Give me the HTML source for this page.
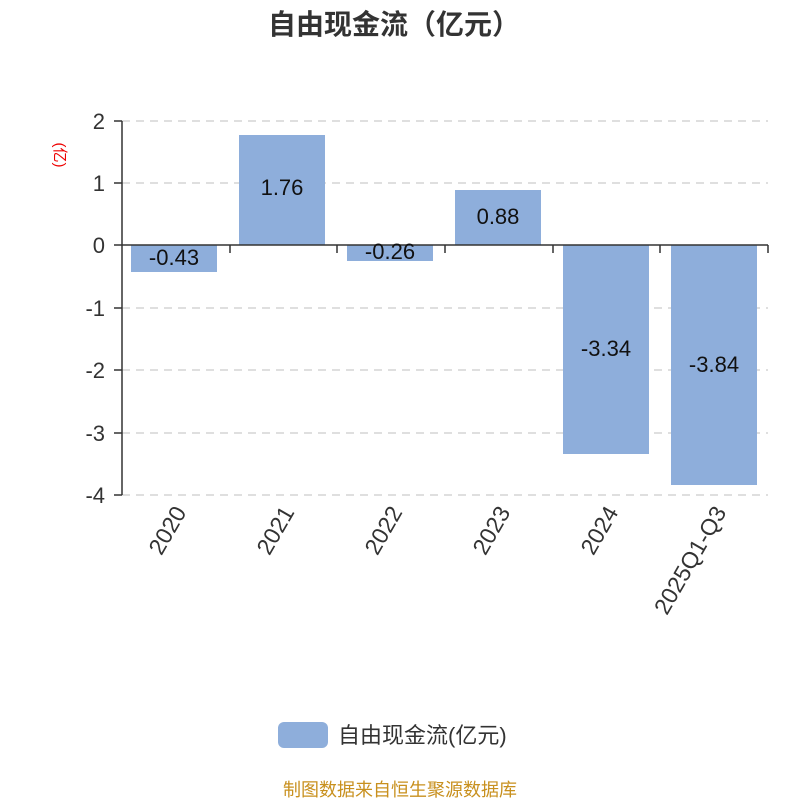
<!DOCTYPE html>
<html><head><meta charset="utf-8"><style>body{margin:0;background:#fff}svg{display:block}text{font-family:"Liberation Sans","Noto Sans CJK SC",sans-serif}</style></head><body>
<svg width="800" height="800" viewBox="0 0 800 800">
<text x="394" y="34" text-anchor="middle" font-size="28" font-weight="bold" fill="#333">自由现金流（亿元）</text>
<text transform="translate(55,155) rotate(90)" text-anchor="middle" font-size="15" fill="#e00">(亿)</text>
<g stroke="#ccc" stroke-dasharray="8,6" stroke-width="1.2">
<line x1="122" y1="121" x2="768" y2="121"/><line x1="122" y1="183" x2="768" y2="183"/><line x1="122" y1="308" x2="768" y2="308"/><line x1="122" y1="370" x2="768" y2="370"/><line x1="122" y1="433" x2="768" y2="433"/><line x1="122" y1="495" x2="768" y2="495"/>
</g>
<g fill="#8eaedb">
<rect x="131" y="245" width="86" height="27"/>
<rect x="239" y="135" width="86" height="110"/>
<rect x="347" y="245" width="86" height="16"/>
<rect x="455" y="190" width="86" height="55"/>
<rect x="563" y="245" width="86" height="209"/>
<rect x="671" y="245" width="86" height="240"/>
</g>
<g stroke="#333" stroke-width="1.5">
<line x1="122" y1="121" x2="122" y2="495"/>
<line x1="114" y1="121" x2="122" y2="121"/><line x1="114" y1="183" x2="122" y2="183"/><line x1="114" y1="245" x2="122" y2="245"/><line x1="114" y1="308" x2="122" y2="308"/><line x1="114" y1="370" x2="122" y2="370"/><line x1="114" y1="433" x2="122" y2="433"/><line x1="114" y1="495" x2="122" y2="495"/>
<line x1="122" y1="245" x2="768" y2="245"/>
<line x1="230" y1="245" x2="230" y2="253"/><line x1="337" y1="245" x2="337" y2="253"/><line x1="445" y1="245" x2="445" y2="253"/><line x1="553" y1="245" x2="553" y2="253"/><line x1="660" y1="245" x2="660" y2="253"/><line x1="768" y1="245" x2="768" y2="253"/>
</g>
<g font-size="22" fill="#333" text-anchor="end">
<text x="105" y="129">2</text><text x="105" y="191">1</text><text x="105" y="253">0</text><text x="105" y="316">-1</text><text x="105" y="378">-2</text><text x="105" y="441">-3</text><text x="105" y="503">-4</text>
</g>
<g font-size="22" fill="#111" text-anchor="middle">
<text x="174" y="265">-0.43</text><text x="282" y="195">1.76</text><text x="390" y="259">-0.26</text><text x="498" y="224">0.88</text><text x="606" y="356">-3.34</text><text x="714" y="372">-3.84</text>
</g>
<g font-size="23" fill="#333" text-anchor="end">
<text transform="translate(187,512) rotate(-60)">2020</text>
<text transform="translate(295,512) rotate(-60)">2021</text>
<text transform="translate(403,512) rotate(-60)">2022</text>
<text transform="translate(511,512) rotate(-60)">2023</text>
<text transform="translate(619,512) rotate(-60)">2024</text>
<text transform="translate(727,512) rotate(-60)">2025Q1-Q3</text>
</g>
<rect x="278" y="722" width="50" height="26" rx="6" fill="#8eaedb"/>
<text x="338" y="743" font-size="22" fill="#333">自由现金流(亿元)</text>
<text x="400" y="796" text-anchor="middle" font-size="18" fill="#c8901e">制图数据来自恒生聚源数据库</text>
</svg>
</body></html>
